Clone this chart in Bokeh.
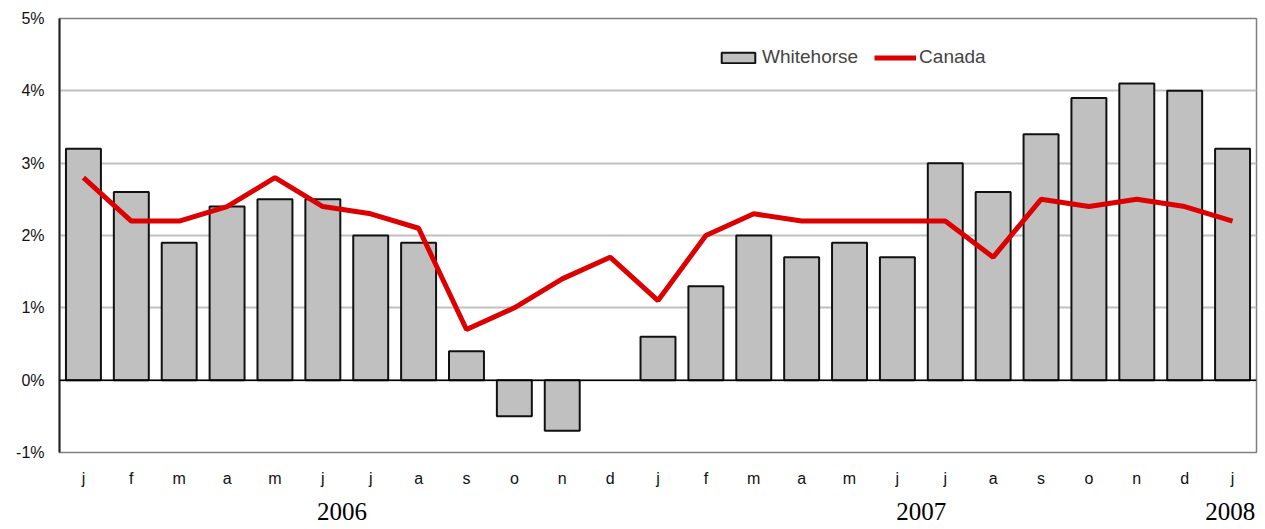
from bokeh.plotting import figure
from bokeh.models import FixedTicker, Span, LinearAxis, Range1d, Legend, LegendItem
from bokeh.embed import file_html
from bokeh.resources import INLINE

months = ["j", "f", "m", "a", "m", "j", "j", "a", "s", "o", "n", "d",
          "j", "f", "m", "a", "m", "j", "j", "a", "s", "o", "n", "d", "j"]
whitehorse = [3.2, 2.6, 1.9, 2.4, 2.5, 2.5, 2.0, 1.9, 0.4, -0.5, -0.7, None,
              0.6, 1.3, 2.0, 1.7, 1.9, 1.7, 3.0, 2.6, 3.4, 3.9, 4.1, 4.0, 3.2]
canada = [2.8, 2.2, 2.2, 2.4, 2.8, 2.4, 2.3, 2.1, 0.7, 1.0, 1.4, 1.7,
          1.1, 2.0, 2.3, 2.2, 2.2, 2.2, 2.2, 1.7, 2.5, 2.4, 2.5, 2.4, 2.2]
years = ["2006", "2007", "2008"]
year_pos = [5.9, 18.0, 24.45]
y_ticks = [-1, 0, 1, 2, 3, 4, 5]

n = len(months)
xs = [i + 0.5 for i in range(n)]

p = figure(width=1265, height=529, output_backend="svg", toolbar_location=None,
           x_range=Range1d(0, n), y_range=Range1d(-1, 5),
           min_border_left=59, min_border_right=9, min_border_top=18, min_border_bottom=77)

p.outline_line_color = "#808080"
p.outline_line_width = 1.5
p.background_fill_color = "white"
p.border_fill_color = "white"

# grid
p.xgrid.visible = False
p.ygrid.ticker = FixedTicker(ticks=y_ticks)
p.ygrid.grid_line_color = "#c0c0c0"
p.ygrid.grid_line_width = 2

# y axis
ya = p.yaxis[0]
ya.ticker = FixedTicker(ticks=y_ticks)
ya.major_label_overrides = {t: f"{t}%" for t in y_ticks}
ya.major_tick_out = 0
ya.major_tick_in = 0
ya.minor_tick_out = 0
ya.minor_tick_in = 0
ya.axis_line_color = "#202020"
ya.axis_line_width = 2
ya.major_label_standoff = 15
ya.major_label_text_font = "Liberation Sans"
ya.major_label_text_font_size = "16px"
ya.major_label_text_color = "#111111"

# x axis (months)
xa = p.xaxis[0]
xa.ticker = FixedTicker(ticks=xs)
xa.major_label_overrides = {x: m for x, m in zip(xs, months)}
xa.major_tick_out = 0
xa.major_tick_in = 0
xa.minor_tick_out = 0
xa.minor_tick_in = 0
xa.axis_line_color = None
xa.major_label_standoff = 17
xa.major_label_text_font = "Liberation Sans"
xa.major_label_text_font_size = "16px"
xa.major_label_text_color = "#111111"

# year axis
yr_axis = LinearAxis(ticker=FixedTicker(ticks=year_pos),
                     major_label_overrides={x: y for x, y in zip(year_pos, years)})
yr_axis.major_tick_out = 0
yr_axis.major_tick_in = 0
yr_axis.minor_tick_out = 0
yr_axis.minor_tick_in = 0
yr_axis.axis_line_color = None
yr_axis.major_label_standoff = 13
yr_axis.major_label_text_font = "Liberation Serif"
yr_axis.major_label_text_font_size = "25px"
yr_axis.major_label_text_color = "#000000"
p.add_layout(yr_axis, "below")

# bars
bx = [x for x, v in zip(xs, whitehorse) if v is not None]
bv = [v for v in whitehorse if v is not None]
bars = p.vbar(x=bx, top=bv, bottom=0, width=0.73, fill_color="#c0c0c0",
              line_color="#111111", line_width=2)

zero = Span(location=0, dimension="width", line_color="#000000", line_width=1.5)
p.add_layout(zero)

line = p.line(xs, canada, line_color="#dd0000", line_width=5)

legend = Legend(items=[LegendItem(label="Whitehorse", renderers=[bars]),
                       LegendItem(label="Canada", renderers=[line])],
                orientation="horizontal", location=(658, 384),
                background_fill_alpha=0, border_line_color=None,
                label_text_font="Liberation Sans", label_text_font_size="19px",
                glyph_width=42, glyph_height=13, label_standoff=3, spacing=16,
                padding=4, margin=0)
p.add_layout(legend)

open("out.html", "w").write(file_html(p, INLINE))
